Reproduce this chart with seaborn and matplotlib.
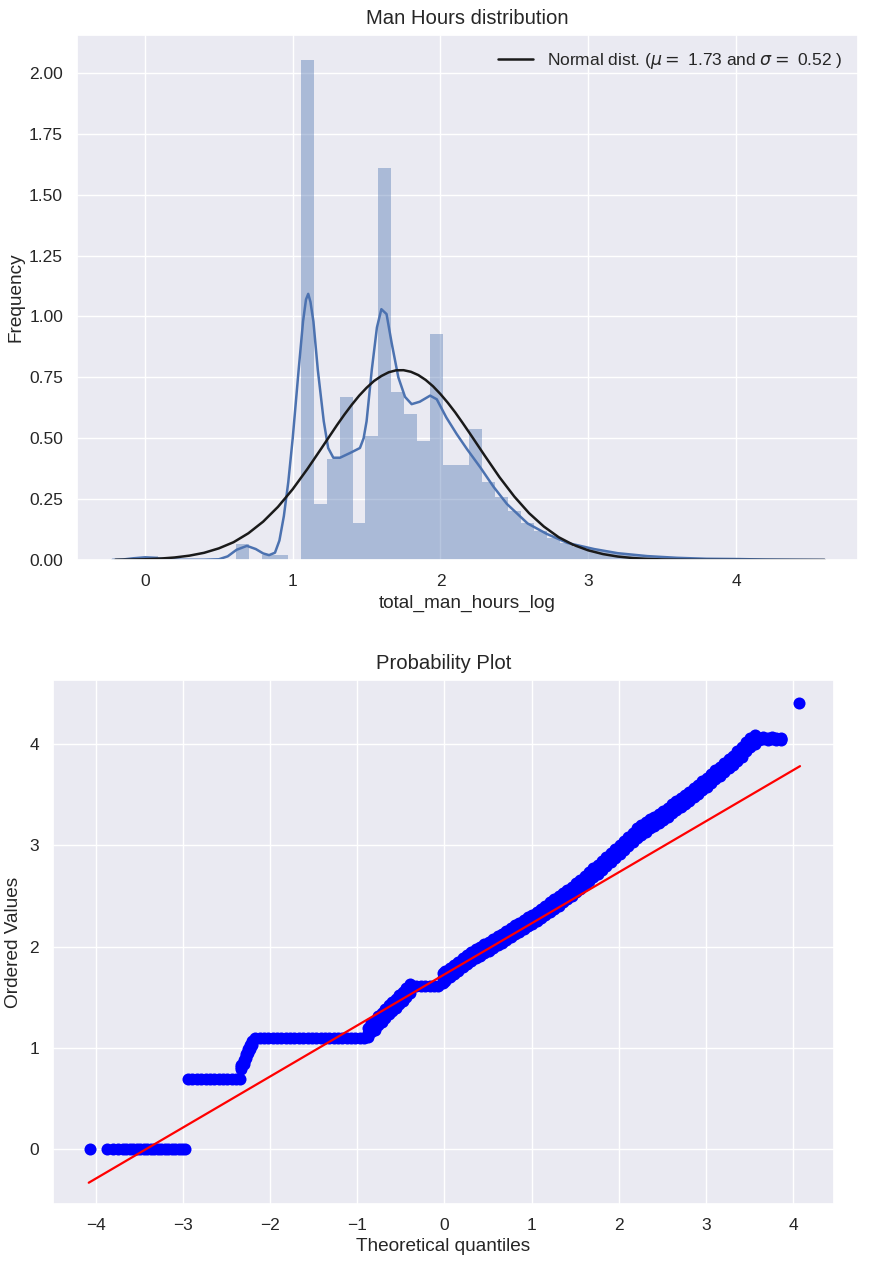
import numpy as np
import pandas as pd
import matplotlib
matplotlib.use("Agg")
import matplotlib.pyplot as plt
import seaborn as sns

# histogram of total_man_hours_log (density per bin, 50 bins over the data range)
hist_lo = 0.0
hist_hi = 4.39
bar_heights = [0.015, 0, 0, 0, 0, 0, 0, 0.065, 0, 0.02,
               0.02, 0, 2.053, 0.23, 0.415, 0.67, 0.15, 0.51, 1.61, 0.69,
               0.60, 0.49, 0.93, 0.39, 0.39, 0.54, 0.32, 0.26, 0.20, 0.15,
               0.12, 0.09, 0.07, 0.055, 0.045, 0.035, 0.027, 0.02, 0.015, 0.012,
               0.009, 0.007, 0.005, 0.004, 0.003, 0.003, 0.002, 0.001, 0.0, 0.001]

# kde curve
kde_x = [-0.22, -0.15, -0.08, 0.0, 0.08, 0.15, 0.25, 0.40, 0.50, 0.56,
         0.62, 0.69, 0.75, 0.80, 0.84, 0.88, 0.91, 0.94, 0.97, 1.00,
         1.04, 1.07, 1.09, 1.105, 1.12, 1.14, 1.17, 1.21, 1.24, 1.275,
         1.32, 1.39, 1.455, 1.48, 1.50, 1.535, 1.57, 1.60, 1.635, 1.67,
         1.715, 1.76, 1.805, 1.86, 1.93, 1.975, 2.04, 2.11, 2.18, 2.27,
         2.36, 2.45, 2.59, 2.72, 2.86, 3.04, 3.2, 3.4, 3.6, 3.8,
         4.0, 4.2, 4.4, 4.6]
kde_y = [0.0003, 0.002, 0.007, 0.011, 0.007, 0.003, 0.001, 0.001, 0.003, 0.015,
         0.042, 0.058, 0.045, 0.027, 0.02, 0.03, 0.08, 0.18, 0.32, 0.50,
         0.78, 0.98, 1.07, 1.093, 1.06, 0.98, 0.78, 0.57, 0.46, 0.42,
         0.42, 0.44, 0.46, 0.50, 0.57, 0.78, 0.955, 1.03, 1.01, 0.89,
         0.75, 0.67, 0.64, 0.65, 0.675, 0.66, 0.585, 0.517, 0.455, 0.38,
         0.30, 0.23, 0.15, 0.107, 0.07, 0.045, 0.028, 0.016, 0.009, 0.005,
         0.004, 0.002, 0.001, 0.0002]

# fitted normal curve (mu = 1.73, sigma = 0.52)
mu = 1.73
sigma = 0.52
norm_x = [-0.2, -0.1, 0.0, 0.1, 0.2, 0.3, 0.4, 0.5, 0.6, 0.7,
          0.8, 0.9, 1.0, 1.1, 1.2, 1.3, 1.35, 1.4, 1.45, 1.5,
          1.55, 1.6, 1.65, 1.7, 1.75, 1.8, 1.85, 1.9, 1.95, 2.0,
          2.05, 2.1, 2.15, 2.2, 2.3, 2.4, 2.5, 2.6, 2.7, 2.8,
          2.9, 3.0, 3.1, 3.2, 3.3, 3.4, 3.5, 3.6, 3.7, 3.8,
          3.9, 4.0, 4.1, 4.2, 4.3, 4.4, 4.5, 4.6]
norm_y = [0.0008, 0.0016, 0.003, 0.0057, 0.0103, 0.0178, 0.0295, 0.0478, 0.0732, 0.1098,
          0.1576, 0.2181, 0.2909, 0.3743, 0.4638, 0.5543, 0.5973, 0.6377, 0.675, 0.7073,
          0.735, 0.7556, 0.771, 0.779, 0.7795, 0.7729, 0.7595, 0.7394, 0.7133, 0.6814,
          0.6455, 0.6061, 0.563, 0.5187, 0.4282, 0.3397, 0.2604, 0.1922, 0.1373, 0.0936,
          0.062, 0.0397, 0.0243, 0.0142, 0.0081, 0.0045, 0.0023, 0.0012, 0.0006, 0.0003,
          0.00013, 0.00005, 0.0, 0.0, 0.0, 0.0, 0.0, 0.0]

# probability plot: theoretical quantiles vs ordered values
qq_x = [-4.07, -3.87, -3.80, -3.74, -3.69, -3.65, -3.61, -3.57, -3.53, -3.49,
        -3.45, -3.41, -3.37, -3.33, -3.29, -3.25, -3.21, -3.17, -3.13, -3.09,
        -3.05, -3.01, -2.97,
        -2.94, -2.89, -2.84, -2.79, -2.74, -2.69, -2.64, -2.59, -2.54, -2.49,
        -2.44, -2.39, -2.34,
        -2.33, -2.30, -2.28, -2.25, -2.23, -2.21,
        -2.17, -2.12, -2.07, -2.02, -1.97, -1.92, -1.87, -1.82, -1.77, -1.72,
        -1.67, -1.62, -1.57, -1.52, -1.47, -1.42, -1.37, -1.32, -1.27, -1.22,
        -1.17, -1.12, -1.07, -1.02, -0.97, -0.92,
        -0.88, -0.84, -0.80, -0.76, -0.72, -0.68, -0.64, -0.60, -0.56, -0.52,
        -0.48, -0.44, -0.40,
        -0.37, -0.32, -0.27, -0.22, -0.17, -0.12, -0.07,
        -0.02, 0.01, 0.06, 0.11, 0.16, 0.21, 0.26, 0.31, 0.36, 0.41,
        0.46, 0.51, 0.56, 0.61, 0.66, 0.71, 0.76, 0.81, 0.86, 0.91,
        0.96, 1.01, 1.06, 1.11, 1.16, 1.21, 1.26, 1.31, 1.36, 1.41,
        1.46, 1.51, 1.56, 1.61, 1.66, 1.71, 1.76, 1.81, 1.86, 1.91,
        1.96, 2.01, 2.06, 2.11, 2.16, 2.21, 2.26, 2.31, 2.36, 2.41,
        2.46, 2.51, 2.56, 2.61, 2.66, 2.71, 2.76, 2.81, 2.86, 2.91,
        2.96, 3.01, 3.06, 3.11, 3.16, 3.21, 3.26, 3.31, 3.36, 3.41,
        3.46, 3.51, 3.56,
        3.61, 3.66, 3.71, 3.76, 3.81, 3.86,
        4.07]
qq_y = [0.0] * 23 + [0.693] * 13 + \
       [0.81, 0.86, 0.92, 0.97, 1.01, 1.05] + [1.099] * 26 + \
       [1.15, 1.20, 1.22, 1.27, 1.30, 1.34, 1.38, 1.41, 1.44, 1.48,
        1.51, 1.55, 1.59] + [1.609] * 7 + \
       [1.69, 1.71, 1.74, 1.77, 1.80, 1.84, 1.87, 1.90, 1.93, 1.95,
        1.98, 2.00, 2.03, 2.06, 2.08, 2.11, 2.14, 2.17, 2.19, 2.22,
        2.25, 2.27, 2.30, 2.33, 2.36, 2.39, 2.42, 2.45, 2.48, 2.51,
        2.54, 2.58, 2.61, 2.65, 2.69, 2.73, 2.76, 2.80, 2.84, 2.88,
        2.92, 2.96, 3.00, 3.04, 3.08, 3.12, 3.15, 3.18, 3.21, 3.23,
        3.26, 3.29, 3.32, 3.36, 3.39, 3.42, 3.45, 3.48, 3.52, 3.55,
        3.59, 3.62, 3.66, 3.70, 3.73, 3.77, 3.81, 3.84, 3.88, 3.92,
        3.97, 4.01, 4.04,
        4.05, 4.06, 4.05, 4.06, 4.05, 4.05,
        4.40]
# vertical half-thickness of the point band around qq_y
qq_spread = [0.0] * 36 + [0.02] * 6 + [0.0] * 26 + [0.045] * 13 + [0.0] * 7 + \
            [0.045] * 73 + [0.01] * 6 + [0.0]
fit_x = [-4.08, 4.08]
fit_y = [-0.33, 3.78]

sns.set_theme(style="darkgrid")
plt.rcParams['font.family'] = ['Liberation Sans', 'DejaVu Sans']
plt.rcParams['text.color'] = '.15'
plt.rcParams['axes.labelcolor'] = '.15'
plt.rcParams['xtick.color'] = '.15'
plt.rcParams['ytick.color'] = '.15'

W, H = 881, 1270
fig = plt.figure(figsize=(W / 100, H / 100), dpi=100)
ax1 = fig.add_axes([77 / W, 1 - 560 / H, (858 - 77) / W, (560 - 35) / H])
ax2 = fig.add_axes([53 / W, 1 - 1204 / H, (834 - 53) / W, (1204 - 680) / H])

# --- top: distribution
edges = np.linspace(hist_lo, hist_hi, len(bar_heights) + 1)
hist_df = pd.DataFrame({
    "value": (edges[:-1] + edges[1:]) / 2,
    "height": bar_heights,
})
sns.histplot(data=hist_df, x="value", weights="height", bins=edges.tolist(),
             stat="count", color="#4C72B0", alpha=0.4, linewidth=0, ax=ax1)
sns.lineplot(x=kde_x, y=kde_y, color="#4C72B0", lw=1.8, ax=ax1)
sns.lineplot(x=norm_x, y=norm_y, color="k", lw=1.8, ax=ax1,
             label=r'Normal dist. ($\mu=$ {:.2f} and $\sigma=$ {:.2f} )'.format(mu, sigma))
ax1.legend(loc="upper right", frameon=False, fontsize=12.5)
ax1.set_xlim(-0.46, 4.826)
ax1.set_ylim(0, 2.156)
ax1.set_yticks(np.arange(0, 2.01, 0.25))
ax1.yaxis.set_major_formatter(matplotlib.ticker.FormatStrFormatter('%.2f'))
ax1.set_xticks([0, 1, 2, 3, 4])
ax1.set_title("Man Hours distribution", fontsize=14.6, pad=8)
ax1.set_xlabel("total_man_hours_log", fontsize=13.7)
ax1.set_ylabel("Frequency", fontsize=13.7, labelpad=3)

# --- bottom: probability plot
qq = pd.DataFrame({"x": qq_x, "y": qq_y, "s": qq_spread})
band = qq[qq["s"] > 0]
qq_pts = pd.concat([
    qq[["x", "y"]],
    pd.DataFrame({"x": band["x"], "y": band["y"] + band["s"]}),
    pd.DataFrame({"x": band["x"], "y": band["y"] - band["s"]}),
])
sns.scatterplot(data=qq_pts, x="x", y="y", color="blue", s=75, linewidth=0, ax=ax2)
sns.lineplot(x=fit_x, y=fit_y, color="red", lw=1.6, ax=ax2)
ax2.set_xlim(-4.49, 4.47)
ax2.set_ylim(-0.54, 4.63)
ax2.set_xticks(range(-4, 5))
ax2.set_yticks(range(0, 5))
ax2.set_title("Probability Plot", fontsize=14.6, pad=8)
ax2.set_xlabel("Theoretical quantiles", fontsize=13.7)
ax2.set_ylabel("Ordered Values", fontsize=13.7, labelpad=5)

for ax in (ax1, ax2):
    ax.tick_params(labelsize=12.5, pad=10, length=0)

fig.savefig("out.png", dpi=100)
